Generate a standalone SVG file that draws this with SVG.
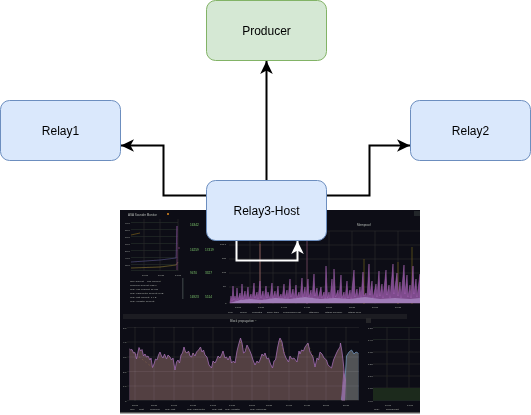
<svg xmlns="http://www.w3.org/2000/svg" width="531" height="415" viewBox="0 0 531 415">
<style>
.box{stroke-width:1}
.blue{fill:#dae8fc;stroke:#6c8ebf}
.green{fill:#d5e8d4;stroke:#82b366}
.lbl{font:12px "Liberation Sans",Arial,sans-serif;fill:#000;text-anchor:middle}
.t{font:3px "Liberation Sans",Arial,sans-serif;fill:#b4b6ba}
.s{font:2.500px "Liberation Sans",Arial,sans-serif;fill:#a8aaae}
.g{font:3.200px "Liberation Sans",Arial,sans-serif;fill:#7cc073}
.grid{stroke:#2a2c30;stroke-width:.6;fill:none}
.conn{fill:none;stroke:#000;stroke-width:2}
</style>
<defs>
<marker id="ah" markerUnits="userSpaceOnUse" markerWidth="16" markerHeight="16" refX="14" refY="8" orient="auto"><path d="M1 1.700 L14 8 L1 14.300 L4.500 8 Z" fill="#000"/></marker>
<marker id="ahw" markerUnits="userSpaceOnUse" markerWidth="16" markerHeight="16" refX="14" refY="8" orient="auto"><path d="M1 1.700 L14 8 L1 14.300 L4.500 8 Z" fill="#fff"/></marker>
<filter id="soft" x="0" y="0" width="1" height="1"><feGaussianBlur stdDeviation="0.5"/></filter>
<clipPath id="plot"><rect x="129.500" y="320" width="229" height="80"/></clipPath>
</defs>
<rect width="531" height="415" fill="#fff"/>

<g id="dashboard" filter="url(#soft)">
<rect x="120" y="210" width="300" height="203" fill="#0d0f12"/>
<rect x="120" y="412" width="300" height="1.500" fill="#555"/>
<rect x="414" y="211" width="6" height="5" fill="#24262a"/>
<rect x="123" y="314" width="284" height="5" fill="#1c1e22"/>
<rect x="366" y="318" width="5" height="5" fill="#26282c"/>
<text class="t" x="128" y="215.500">ASA Sounder Monitor</text>
<circle cx="168" cy="214" r="1" fill="#e08a1e"/>

<path class="grid" d="M131 222.500H178M131 229.500H178M131 236.500H178M131 243.500H178M131 250.500H178M131 257.500H178M131 264.500H178M131 270.500H178M144 219V271M160 219V271M178 219V271"/>
<g class="s"><text x="125" y="224">90.0</text><text x="125" y="231">80.0</text><text x="125" y="238">70.0</text><text x="125" y="245">60.0</text><text x="125" y="252">50.0</text><text x="125" y="259">40.0</text><text x="125" y="266">30.0</text><text x="142" y="276">16:00</text><text x="158" y="276">16:30</text><text x="175" y="276">17:00</text></g>
<path d="M131 235L140 233" stroke="#7a5a20" stroke-width=".7" fill="none"/>
<path d="M131 268L160 267L176 265L178 262" stroke="#7c6a30" stroke-width=".7" fill="none"/>
<path d="M131 262L160 260L176 258L177 226" stroke="#4f4a80" stroke-width=".7" fill="none"/>
<path d="M177 226V270M178 248H180" stroke="#7a3e78" stroke-width=".8" fill="none"/>
<g class="s"><text x="130" y="281.500">max Current</text><text x="147" y="281.500">Self Current</text><text x="130" y="285.500">producer Current: 512.6</text><text x="130" y="289.500">relay-001 Current: 11.8 B</text><text x="130" y="293.500">relay-barometric Current: 5 kB</text><text x="130" y="297.500">relay-fast Current: 1.4 B</text><text x="130" y="301.500">relay-canister Current:</text></g>
<rect x="182" y="278" width="1.500" height="21" fill="#33353a"/>

<g class="g"><text x="190" y="226">16342</text><text x="190" y="251">16259</text><text x="205" y="251">17419</text><text x="190" y="274">9470</text><text x="205" y="274">3327</text><text x="190" y="298">16923</text><text x="205" y="298">5514</text></g>

<path class="grid" d="M229 231H420M229 245H420M229 259H420M229 273H420M229 287H420M229 303H420M250 231V304M273 231V304M296 231V304M329 231V304M352 231V304M375 231V304M398 231V304"/>
<text class="t" x="357" y="226">Memproof</text>
<g class="s"><text x="220" y="245">100.0</text><text x="222" y="259">150</text><text x="222" y="273">100</text><text x="223" y="287">50</text><text x="225" y="304">0</text><text x="235" y="308">13:00</text><text x="258" y="308">13:30</text><text x="281" y="308">14:00</text><text x="304" y="308">14:30</text><text x="326" y="308">15:00</text><text x="349" y="308">15:30</text><text x="372" y="308">16:00</text><text x="395" y="308">16:30</text><text x="228" y="312.500">core</text><text x="240" y="312.500">frozen</text><text x="252" y="312.500">persisted</text><text x="267" y="312.500">swap-table</text><text x="283" y="312.500">compressed-sst</text><text x="309" y="312.500">attached</text><text x="325" y="312.500">mtaqd-memdex</text><text x="348" y="312.500">mtaqd-wpm</text></g>
<path d="M260 304V242M364 304V259M398 304V262M412 304V247" stroke="#7a6420" stroke-width=".8" fill="none" opacity=".8"/>
<path d="M307 304V241M260 300V244" stroke="#7a4a70" stroke-width=".8" fill="none"/>
<path d="M230 303L231 296L232 301L233 286L234 300L235 296L236 301L237 288L238 300L240 293L241 300L242 284L243 299L245 291L246 300L248 287L249 299L251 294L252 300L254 283L255 298L257 292L258 299L260 281L261 298L263 291L264 300L266 286L267 298L268 292L270 299L272 283L273 298L275 291L276 299L278 286L279 298L281 294L282 299L284 284L285 298L287 290L288 299L290 279L291 297L293 289L294 299L296 285L297 298L299 292L300 299L302 278L303 297L305 287L306 299L308 279L309 297L311 290L312 299L314 274L315 296L317 288L318 299L321 287L322 298L324 292L325 299L326 266L327.500 298L329 292L330 299L332 279L333 298L334 269L335.500 297L338 290L339 299L341 275L342 298L344 292L345 299L347 281L348 298L350 290L351 299L354 270L355 297L357 289L358 299L360 287L361 298L363 272L364 296L366 293L367 299L369 264L370 295L372 281L373 298L376 284L377 297L379 271L380 296L382 284L383 298L386 270L387 295L389 285L390 298L393 264L394 294L397 273L398 296L400 282L401 298L404 265L405 294L407 275L408 297L410 285L411 298L413 266L414 294L416 279L417 297L420 274V303Z" fill="#7e4b8d" stroke="#a964b8" stroke-width=".5"/>
<path d="M230 303L240 300L250 299L262 300L275 298L290 299L305 297L320 299L335 298L350 299L365 297L380 299L395 298L410 299L420 298V303Z" fill="#a07bb8"/>

<g class="s"><text x="123" y="329">5.0</text><text x="123" y="343">4.0</text><text x="123" y="358">3.0</text><text x="123" y="373">2.0</text><text x="123" y="387">1.0</text><text x="125" y="402">0</text><text x="132" y="405.500">15:00</text><text x="151" y="405.500">15:30</text><text x="171" y="405.500">16:00</text><text x="190" y="405.500">16:30</text><text x="210" y="405.500">17:00</text><text x="229" y="405.500">17:30</text><text x="249" y="405.500">18:00</text><text x="266" y="405.500">18:30</text><text x="286" y="405.500">19:00</text><text x="304" y="405.500">19:30</text><text x="323" y="405.500">20:00</text><text x="343" y="405.500">20:30</text><text x="130" y="410">max</text><text x="139" y="410">host</text><text x="150" y="410">producer</text><text x="165" y="410">relay-fast</text><text x="187" y="410">relay-barometric</text><text x="212" y="410">relay-fast</text><text x="225" y="410">relay-canister</text><text x="250" y="410">relay-hopeless</text></g>
<text class="t" x="230" y="322">Block propagation ~</text>
<g clip-path="url(#plot)">
<path id="bigarea" d="M129 348.500L130.500 350L132 349.500L133.500 353L135 352.500L136.500 359L138 352L139 347.500L140.500 351L142 349.500L143.500 356L145 354L146.500 357L148 356L150 360L151 358L152.500 367.500L154 364L155.500 359L157 360L158.500 355L160 352L161.500 356L163 358L164.500 354L166.500 359L168 355L170 357L171.500 360L173 358L175 370L176.500 362L178 360L179.500 363L181 355L182.500 353L184 347L185.500 352L187 353L188.500 351L190 356L191.500 357L193 353L195 356L196.500 352L198.500 350L200.500 347L202 352L203.500 350L205 355L207 357L209 365L211.500 368L213 361L215 363L216.500 360L218 356L220 358L221.500 355L223 351L225 358L226.500 357L228 360L230 356L231.500 363L233.500 361L235 363L237 351L238.500 345L240.500 338L242 343L243.500 353L245 352L247 345L249.500 350L251.500 355L253 360L255 365L257 361L258.500 363L260 360L262 354L263.500 356L265 353L267 359L268.500 358L270.500 364L272.500 368L274 361L275.500 360L277.500 348L279 341L280 338L282 342L284 353L286 358L288.500 362L290 356L292 359L294 358L297 362L299 351L300 354L301.500 350L303.500 351L305 347L308 343L310 352L313 357L315 367L317 358L318.500 360L320 352L322 354L324 358L326.500 360L328 365L331.500 368L333.500 360L336.500 353L338 350L340 347L340.500 343L342 352L343 360L344 370L341.500 400.500H129Z" fill="#533f42" stroke="#a36db5" stroke-width=".8" stroke-linejoin="round"/>
<path d="M341.500 400.500L345 380L346.500 356L349 352L351.500 350L354 354L356 352L358 353L359 354V400.500Z" fill="#515257" stroke="#6d8fb8" stroke-width=".8"/>
</g>
<path d="M133 352L152 367M185 352L196 354M240 342L246 351M280 341L285 354M308 344L313 356" stroke="#b08a50" stroke-width=".5" stroke-dasharray="1 3" fill="none"/>
<path d="M341.500 400.500L344 370L346 380L345 400.500Z" fill="#8d6a9c"/>
<path d="M127 327.500H359M127 342H359M127 357H359M127 371.500H359M127 386H359M127 400.500H359M135 327V401M154 327V401M174 327V401M193 327V401M213 327V401M232 327V401M252 327V401M269 327V401M289 327V401M307 327V401M326 327V401M346 327V401" stroke="#fff" stroke-opacity=".12" stroke-width=".6" fill="none"/>

<path class="grid" d="M373 327.500H420M373 339.500H420M373 352H420M373 364H420M373 376H420M373 388H420M373 400.500H420M387 327V401M409 327V401"/>
<rect x="373" y="388" width="47" height="12.500" fill="#1e2b1e"/>
<g class="s"><text x="368" y="329">1.50</text><text x="368" y="341">1.40</text><text x="368" y="353">1.30</text><text x="368" y="365">1.20</text><text x="368" y="377">1.10</text><text x="368" y="389">1.00</text><text x="368" y="402">0.90</text><text x="385" y="405.500">16:00</text><text x="407" y="405.500">17:00</text><text x="374" y="410">relay</text><text x="386" y="410">blockheight</text></g>
</g>

<g id="connectors">
<path class="conn" d="M206.500 195.500H163.500V145.500H121" marker-end="url(#ah)"/>
<path class="conn" d="M326.500 195.500H369.500V145.500H410" marker-end="url(#ah)"/>
<path class="conn" d="M266.500 180.500V61" marker-end="url(#ah)"/>
<path d="M236.500 240.500V260.500H297.500V241" fill="none" stroke="#fff" stroke-width="2" marker-end="url(#ahw)"/>
</g>

<g id="producer"><rect class="box green" x="206.500" y="0.500" width="120" height="60" rx="9" ry="9"/><text class="lbl" x="266.500" y="35">Producer</text></g>
<g id="relay1"><rect class="box blue" x="0.500" y="100.500" width="120" height="60" rx="9" ry="9"/><text class="lbl" x="60.500" y="135">Relay1</text></g>
<g id="relay2"><rect class="box blue" x="410.500" y="100.500" width="120" height="60" rx="9" ry="9"/><text class="lbl" x="470.500" y="135">Relay2</text></g>
<g id="relay3-host"><rect class="box blue" x="206.500" y="180.500" width="120" height="60" rx="9" ry="9"/><text class="lbl" x="266.500" y="215">Relay3-Host</text></g>
</svg>
